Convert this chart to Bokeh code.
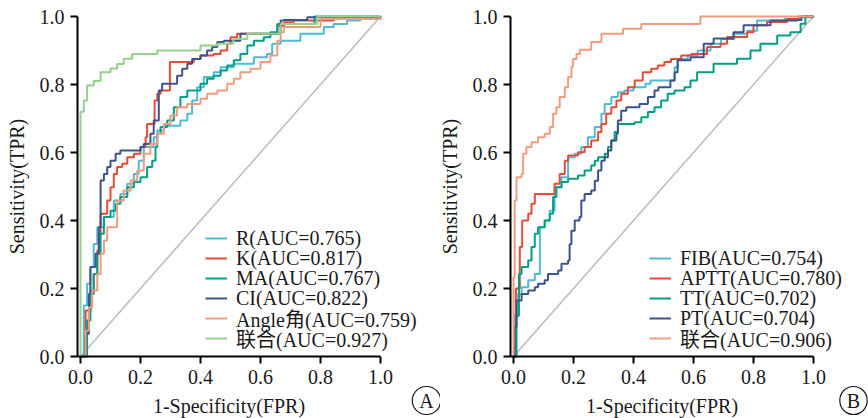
from bokeh.plotting import figure
from bokeh.layouts import row
from bokeh.models import Range1d, FixedTicker, Label, Legend, LegendItem
from bokeh.embed import file_html
from bokeh.resources import INLINE

tick_values = [0.0, 0.2, 0.4, 0.6, 0.8, 1.0]
tick_labels = ["0.0", "0.2", "0.4", "0.6", "0.8", "1.0"]
x_title = "1-Specificity(FPR)"
y_title = "Sensitivity(TPR)"

# ---------------- Panel A ----------------
a_names = ["R", "K", "MA", "CI", "Angle角", "联合"]
a_auc = [0.765, 0.817, 0.767, 0.822, 0.759, 0.927]
a_colors = ["#4DBBD5", "#E64B35", "#00A087", "#3C5488", "#F39B7F", "#92D28A"]

R_fpr = [0, 0.006, 0.011, 0.022, 0.033, 0.044, 0.056, 0.078, 0.111, 0.133, 0.156, 0.178, 0.194, 0.211, 0.244, 0.256, 0.278, 0.333, 0.356, 0.372, 0.389, 0.411, 0.444, 0.467, 0.511, 0.578, 0.622, 0.639, 0.667, 0.733, 0.811, 0.844, 0.889, 0.933, 1.0]
R_tpr = [0, 0, 0.150, 0.214, 0.263, 0.331, 0.380, 0.410, 0.459, 0.478, 0.508, 0.537, 0.576, 0.616, 0.645, 0.665, 0.679, 0.694, 0.714, 0.753, 0.792, 0.822, 0.836, 0.851, 0.861, 0.880, 0.890, 0.920, 0.929, 0.949, 0.969, 0.978, 0.988, 0.993, 1.0]

K_fpr = [0, 0.011, 0.017, 0.033, 0.044, 0.056, 0.061, 0.067, 0.089, 0.100, 0.111, 0.122, 0.139, 0.156, 0.178, 0.200, 0.217, 0.222, 0.247, 0.256, 0.267, 0.298, 0.378, 0.400, 0.444, 0.467, 0.489, 0.500, 0.522, 0.656, 0.678, 0.711, 0.844, 1.0]
K_tpr = [0, 0, 0.135, 0.194, 0.243, 0.312, 0.361, 0.420, 0.459, 0.498, 0.537, 0.557, 0.567, 0.586, 0.596, 0.616, 0.645, 0.684, 0.753, 0.773, 0.782, 0.866, 0.875, 0.885, 0.890, 0.900, 0.920, 0.939, 0.949, 0.973, 0.983, 0.988, 0.998, 1.0]

MA_fpr = [0, 0.006, 0.022, 0.033, 0.044, 0.056, 0.067, 0.078, 0.100, 0.117, 0.133, 0.156, 0.178, 0.200, 0.222, 0.239, 0.250, 0.256, 0.267, 0.289, 0.311, 0.333, 0.356, 0.400, 0.422, 0.444, 0.467, 0.489, 0.511, 0.533, 0.556, 0.578, 0.611, 0.633, 0.656, 0.780, 1.0]
MA_tpr = [0, 0, 0.106, 0.184, 0.243, 0.302, 0.361, 0.410, 0.429, 0.449, 0.469, 0.498, 0.513, 0.527, 0.557, 0.576, 0.616, 0.655, 0.675, 0.694, 0.733, 0.763, 0.782, 0.802, 0.817, 0.826, 0.841, 0.856, 0.871, 0.890, 0.915, 0.929, 0.939, 0.954, 0.978, 1.0, 1.0]

CI_fpr = [0, 0.006, 0.017, 0.028, 0.033, 0.050, 0.061, 0.067, 0.078, 0.089, 0.100, 0.117, 0.133, 0.200, 0.211, 0.233, 0.244, 0.261, 0.272, 0.322, 0.339, 0.356, 0.372, 0.400, 0.422, 0.439, 0.456, 0.478, 0.533, 0.667, 0.678, 0.756, 1.0]
CI_tpr = [0, 0, 0.067, 0.184, 0.263, 0.302, 0.380, 0.518, 0.537, 0.557, 0.576, 0.596, 0.606, 0.616, 0.625, 0.655, 0.694, 0.782, 0.802, 0.826, 0.846, 0.861, 0.875, 0.885, 0.900, 0.910, 0.925, 0.929, 0.949, 0.988, 0.990, 0.998, 1.0]

Angle_fpr = [0, 0.006, 0.017, 0.028, 0.039, 0.056, 0.067, 0.078, 0.089, 0.122, 0.144, 0.167, 0.189, 0.211, 0.233, 0.256, 0.278, 0.300, 0.322, 0.356, 0.400, 0.422, 0.456, 0.489, 0.511, 0.533, 0.567, 0.600, 0.633, 0.656, 0.667, 0.678, 0.800, 1.0]
Angle_tpr = [0, 0, 0.076, 0.145, 0.194, 0.243, 0.302, 0.341, 0.380, 0.459, 0.488, 0.518, 0.547, 0.596, 0.625, 0.655, 0.684, 0.709, 0.733, 0.743, 0.758, 0.773, 0.782, 0.802, 0.817, 0.836, 0.846, 0.866, 0.885, 0.929, 0.954, 0.969, 0.993, 1.0]

CombA_fpr = [0, 0, 0.011, 0.022, 0.044, 0.067, 0.100, 0.122, 0.144, 0.172, 0.256, 0.400, 0.456, 0.510, 0.556, 0.667, 0.789, 1.0]
CombA_tpr = [0, 0.720, 0.753, 0.797, 0.810, 0.836, 0.847, 0.860, 0.876, 0.890, 0.900, 0.915, 0.920, 0.934, 0.949, 0.978, 1.0, 1.0]

# ---------------- Panel B ----------------
b_names = ["FIB", "APTT", "TT", "PT", "联合"]
b_auc = [0.754, 0.780, 0.702, 0.704, 0.906]
b_colors = ["#4DBBD5", "#E64B35", "#00A087", "#3C5488", "#F39B7F"]

FIB_fpr = [0, 0.004, 0.004, 0.016, 0.027, 0.049, 0.071, 0.088, 0.104, 0.121, 0.137, 0.160, 0.182, 0.204, 0.226, 0.248, 0.271, 0.293, 0.304, 0.326, 0.348, 0.370, 0.400, 0.440, 0.457, 0.537, 0.548, 0.581, 0.614, 0.657, 0.692, 0.736, 0.779, 0.812, 0.902, 0.958, 1.0]
FIB_tpr = [0, 0, 0.125, 0.184, 0.204, 0.224, 0.243, 0.380, 0.400, 0.429, 0.498, 0.527, 0.586, 0.596, 0.616, 0.645, 0.675, 0.714, 0.743, 0.763, 0.777, 0.782, 0.792, 0.802, 0.812, 0.851, 0.875, 0.885, 0.900, 0.920, 0.934, 0.949, 0.958, 0.988, 0.993, 0.998, 1.0]

APTT_fpr = [0, 0.004, 0.008, 0.021, 0.029, 0.049, 0.060, 0.071, 0.137, 0.154, 0.171, 0.182, 0.215, 0.237, 0.259, 0.282, 0.293, 0.309, 0.326, 0.343, 0.359, 0.381, 0.404, 0.431, 0.459, 0.481, 0.503, 0.525, 0.559, 0.592, 0.645, 0.690, 0.712, 0.779, 0.800, 0.845, 0.912, 0.950, 1.0]
APTT_tpr = [0, 0, 0.200, 0.322, 0.400, 0.420, 0.449, 0.478, 0.508, 0.537, 0.576, 0.591, 0.601, 0.616, 0.635, 0.660, 0.684, 0.714, 0.733, 0.753, 0.773, 0.792, 0.812, 0.836, 0.846, 0.856, 0.866, 0.875, 0.885, 0.890, 0.910, 0.920, 0.940, 0.954, 0.974, 0.984, 0.993, 1.0, 1.0]

TT_fpr = [0, 0.004, 0.010, 0.018, 0.027, 0.049, 0.060, 0.071, 0.082, 0.104, 0.121, 0.132, 0.143, 0.160, 0.182, 0.215, 0.237, 0.259, 0.271, 0.282, 0.304, 0.315, 0.326, 0.337, 0.348, 0.404, 0.426, 0.448, 0.470, 0.492, 0.514, 0.537, 0.570, 0.590, 0.612, 0.667, 0.745, 0.790, 0.823, 0.879, 0.923, 0.957, 0.973, 1.0]
TT_tpr = [0, 0, 0.120, 0.243, 0.263, 0.282, 0.322, 0.361, 0.380, 0.400, 0.420, 0.469, 0.498, 0.513, 0.523, 0.532, 0.547, 0.562, 0.576, 0.586, 0.596, 0.616, 0.635, 0.660, 0.684, 0.689, 0.704, 0.719, 0.733, 0.753, 0.773, 0.782, 0.792, 0.812, 0.836, 0.861, 0.876, 0.900, 0.920, 0.944, 0.954, 0.979, 1.0, 1.0]

PT_fpr = [0, 0.004, 0.004, 0.010, 0.027, 0.049, 0.071, 0.082, 0.104, 0.115, 0.149, 0.160, 0.182, 0.187, 0.193, 0.204, 0.220, 0.226, 0.237, 0.259, 0.271, 0.282, 0.293, 0.304, 0.315, 0.326, 0.343, 0.348, 0.359, 0.376, 0.420, 0.448, 0.470, 0.483, 0.523, 0.537, 0.547, 0.590, 0.634, 0.667, 0.733, 0.767, 0.857, 0.947, 0.960, 1.0]
PT_tpr = [0, 0, 0.086, 0.165, 0.184, 0.194, 0.204, 0.214, 0.224, 0.243, 0.253, 0.273, 0.282, 0.330, 0.370, 0.400, 0.410, 0.459, 0.478, 0.488, 0.517, 0.547, 0.576, 0.586, 0.606, 0.635, 0.655, 0.694, 0.723, 0.733, 0.743, 0.763, 0.782, 0.792, 0.812, 0.836, 0.871, 0.880, 0.920, 0.935, 0.954, 0.974, 0.988, 0.990, 1.0, 1.0]

CombB_fpr = [0, 0, 0.004, 0.010, 0.027, 0.032, 0.043, 0.060, 0.082, 0.104, 0.121, 0.132, 0.143, 0.154, 0.171, 0.182, 0.193, 0.198, 0.210, 0.221, 0.259, 0.293, 0.365, 0.426, 0.623, 1.0]
CombB_tpr = [0, 0.233, 0.459, 0.527, 0.537, 0.596, 0.616, 0.630, 0.645, 0.655, 0.675, 0.714, 0.733, 0.763, 0.792, 0.822, 0.851, 0.875, 0.890, 0.902, 0.925, 0.949, 0.964, 0.978, 1.0, 1.0]

a_curves = [(R_fpr, R_tpr), (K_fpr, K_tpr), (MA_fpr, MA_tpr), (CI_fpr, CI_tpr), (Angle_fpr, Angle_tpr), (CombA_fpr, CombA_tpr)]
b_curves = [(FIB_fpr, FIB_tpr), (APTT_fpr, APTT_tpr), (TT_fpr, TT_tpr), (PT_fpr, PT_tpr), (CombB_fpr, CombB_tpr)]

SERIF = "Liberation Serif"
MIXED = "Liberation Serif, Noto Sans CJK SC"
FS = "20px"

# layout geometry (pixels)
CANVAS_H = 418
PX_PER_X = 300.0
PX_PER_Y = 340.0
Y_TOP_PX = 16      # pixel row of y = 1
X0 = -0.01         # x where the y axis stands
ROW_BOX = 32       # legend item box height
ROW_PITCH = 20     # legend row pitch
LAST_ROW_CENTER = 338


def make_panel(width, spine_px, names, aucs, colors, curves, legend_x, letter, letter_px):
    x_start = X0 - spine_px / PX_PER_X
    x_end = x_start + width / PX_PER_X
    y_end = 1.0 + Y_TOP_PX / PX_PER_Y
    y_start = y_end - CANVAS_H / PX_PER_Y
    p = figure(width=width, height=CANVAS_H,
               x_range=Range1d(x_start, x_end), y_range=Range1d(y_start, y_end),
               output_backend="svg", toolbar_location=None,
               min_border_left=0, min_border_right=0, min_border_top=0, min_border_bottom=0)
    p.outline_line_color = None
    p.grid.visible = False
    p.background_fill_color = "white"
    p.border_fill_color = "white"

    p.xaxis.fixed_location = 0.0
    p.yaxis.fixed_location = X0
    p.xaxis.bounds = (X0, 1.0)
    p.yaxis.bounds = (0.0, 1.0)

    for ax in (p.xaxis[0], p.yaxis[0]):
        ax.ticker = FixedTicker(ticks=tick_values)
        ax.major_label_overrides = dict(zip(tick_values, tick_labels))
        ax.axis_line_width = 2
        ax.axis_line_color = "black"
        ax.major_tick_line_width = 2
        ax.major_tick_line_color = "black"
        ax.major_tick_out = 7
        ax.major_tick_in = 0
        ax.minor_tick_out = 0
        ax.minor_tick_in = 0
        ax.major_label_text_font = SERIF
        ax.major_label_text_font_size = FS
        ax.major_label_text_color = "#1a1a1a"
        ax.major_label_standoff = 6
        ax.axis_label_text_font = SERIF
        ax.axis_label_text_font_size = FS
        ax.axis_label_text_font_style = "normal"
        ax.axis_label_text_color = "#1a1a1a"
    p.xaxis.axis_label = x_title
    p.yaxis.axis_label = y_title
    p.xaxis.axis_label_standoff = 8
    p.yaxis.axis_label_standoff = 9

    p.line([0, 1], [0, 1], line_color="#bdbdbd", line_width=1.6)

    n_items = len(names)
    for i, ((xs, ys), n, a, c) in enumerate(zip(curves, names, aucs, colors)):
        r = p.step(xs, ys, mode="after", line_color=c, line_width=2)
        center = LAST_ROW_CENTER - (n_items - 1 - i) * ROW_PITCH
        bottom_from_canvas_bottom = CANVAS_H - (center + ROW_BOX / 2)
        lg = Legend(items=[LegendItem(label=f"{n}(AUC={a:.3f})", renderers=[r])],
                    location=(legend_x, int(round(bottom_from_canvas_bottom))),
                    padding=0, margin=0, border_line_color=None,
                    background_fill_alpha=0, glyph_width=22, glyph_height=ROW_BOX,
                    label_height=ROW_BOX, spacing=0, label_standoff=9,
                    label_text_font=MIXED, label_text_font_size=FS,
                    label_text_color="#1a1a1a")
        p.add_layout(lg)

    lx = x_start + letter_px / PX_PER_X
    ly = y_end - 400 / PX_PER_Y
    lab = Label(x=lx, y=ly, text=letter, text_align="center", text_baseline="middle",
                text_font=SERIF, text_font_size="20px", text_color="#1a1a1a",
                border_line_color="#1a1a1a", border_line_width=1.2,
                padding=(7, 3), border_radius=14)
    p.add_layout(lab)
    return p


pA = make_panel(440, 77, a_names, a_auc, a_colors, a_curves, 205, "A", 426)
pB = make_panel(428, 70, b_names, b_auc, b_colors, b_curves, 209, "B", 413)

layout = row(pA, pB)
open("out.html", "w").write(file_html(layout, INLINE))
